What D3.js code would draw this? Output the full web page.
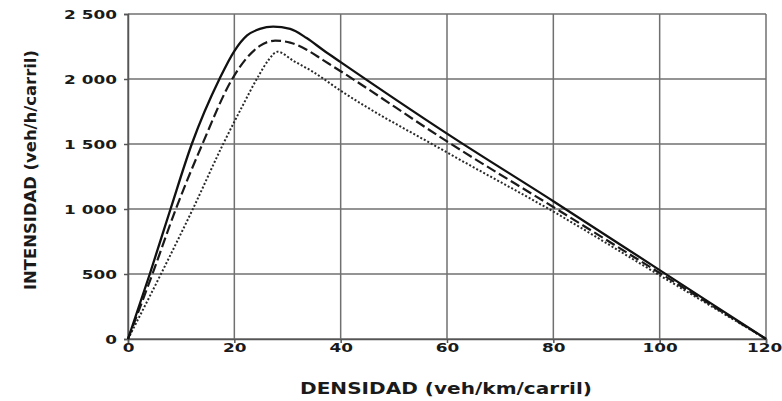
<!DOCTYPE html>
<html>
<head>
<meta charset="utf-8">
<script src="https://cdn.jsdelivr.net/npm/d3@7"></script>
<style>
  body { margin: 0; background: #fff; }
  text { font-family: "DejaVu Sans", sans-serif; fill: #1a1a1a; }
</style>
</head>
<body>
<div id="chart"></div>
<script>
// Tick values
const xTicks = [0, 20, 40, 60, 80, 100, 120];
const yTicks = [0, 500, 1000, 1500, 2000, 2500];

// Curves: [density, flow]
const solidCurve = [[0, 0], [4.1, 500], [8, 1000], [12, 1500], [17.2, 2000], [20, 2215], [22.4, 2335],
    [24.8, 2385], [27.3, 2403], [30.5, 2385], [33.6, 2315], [36.7, 2223], [40, 2130], [60, 1580],
    [80, 1060], [100, 530], [120, 0]];
const dashedCurve = [[0, 0], [4.6, 500], [9, 1000], [14, 1500], [19.6, 2000], [22.3, 2160], [24.8, 2255],
    [27.7, 2295], [30.5, 2280], [33.6, 2225], [36.7, 2145], [40, 2060], [60, 1520], [80, 1015],
    [100, 508], [120, 0]];
const dottedCurve = [[0, 0], [6.2, 500], [12.2, 1000], [17.9, 1500], [21.5, 1790], [24.5, 2020],
    [26.5, 2150], [28.1, 2210], [31.1, 2140], [34.8, 2055], [40, 1910], [60, 1435], [80, 980],
    [100, 490], [120, 0]];

const MARGIN = { LEFT: 128, RIGHT: 16, TOP: 14, BOTTOM: 62 };
const WIDTH = 782 - MARGIN.LEFT - MARGIN.RIGHT;
const HEIGHT = 401 - MARGIN.TOP - MARGIN.BOTTOM;
const STRETCH = 1.3; // the picture's lettering is wide

const svg = d3.select("#chart").append("svg")
    .attr("width", 782)
    .attr("height", 401)
    .append("g")
    .attr("transform", `translate(${MARGIN.LEFT}, ${MARGIN.TOP})`);

const x = d3.scaleLinear().domain([0, 120]).range([0, WIDTH]);
const y = d3.scaleLinear().domain([0, 2500]).range([HEIGHT, 0]);

const fmt = d3.formatLocale({ decimal: ",", thousands: " ", grouping: [3], currency: ["", ""] }).format(",");

// Grid
svg.append("g").selectAll("line")
    .data(xTicks)
    .join("line")
    .attr("x1", d => x(d)).attr("x2", d => x(d))
    .attr("y1", 0).attr("y2", HEIGHT)
    .attr("stroke", "#707070")
    .attr("stroke-width", 1.5);

svg.append("g").selectAll("line")
    .data(yTicks)
    .join("line")
    .attr("x1", 0).attr("x2", WIDTH)
    .attr("y1", d => y(d)).attr("y2", d => y(d))
    .attr("stroke", "#707070")
    .attr("stroke-width", 1.5);

// Axes
const xAxisGroup = svg.append("g")
    .attr("transform", `translate(0, ${HEIGHT})`)
    .call(d3.axisBottom(x).tickValues(xTicks).tickSize(4).tickPadding(0));
const yAxisGroup = svg.append("g")
    .call(d3.axisLeft(y).tickValues(yTicks).tickFormat(fmt).tickSize(4).tickPadding(3));

[xAxisGroup, yAxisGroup].forEach(g => {
    g.select(".domain").attr("stroke", "#555").attr("stroke-width", 1.5);
    g.selectAll(".tick line").attr("stroke", "#555").attr("stroke-width", 1.5);
    g.selectAll(".tick text")
        .attr("fill", "#1a1a1a")
        .style("font-size", "13px")
        .style("font-weight", "bold")
        .attr("transform", `scale(${STRETCH},1)`);
});
yAxisGroup.selectAll(".tick text").attr("x", -11 / STRETCH);
// keep the last label inside the picture
xAxisGroup.selectAll(".tick text").filter(d => d === 120).attr("x", -2 / STRETCH);

// Curves
const line = d3.line()
    .x(d => x(d[0]))
    .y(d => y(d[1]))
    .curve(d3.curveMonotoneX);

svg.append("path")
    .datum(dottedCurve)
    .attr("d", line)
    .attr("fill", "none")
    .attr("stroke", "#2a2a2a")
    .attr("stroke-width", 2)
    .attr("stroke-dasharray", "2,2");

svg.append("path")
    .datum(dashedCurve)
    .attr("d", line)
    .attr("fill", "none")
    .attr("stroke", "#1a1a1a")
    .attr("stroke-width", 2.2)
    .attr("stroke-dasharray", "10,4");

svg.append("path")
    .datum(solidCurve)
    .attr("d", line)
    .attr("fill", "none")
    .attr("stroke", "#111")
    .attr("stroke-width", 2.3);

// Axis labels
svg.append("text")
    .attr("x", 318)
    .attr("y", 380)
    .attr("text-anchor", "middle")
    .attr("textLength", 292)
    .attr("lengthAdjust", "spacingAndGlyphs")
    .style("font-size", "15px")
    .style("font-weight", "bold")
    .text("DENSIDAD (veh/km/carril)");

svg.append("text")
    .attr("transform", "rotate(-90)")
    .attr("x", -156)
    .attr("y", -92)
    .attr("text-anchor", "middle")
    .attr("textLength", 240)
    .attr("lengthAdjust", "spacingAndGlyphs")
    .style("font-size", "16px")
    .style("font-weight", "bold")
    .text("INTENSIDAD (veh/h/carril)");
</script>
</body>
</html>
